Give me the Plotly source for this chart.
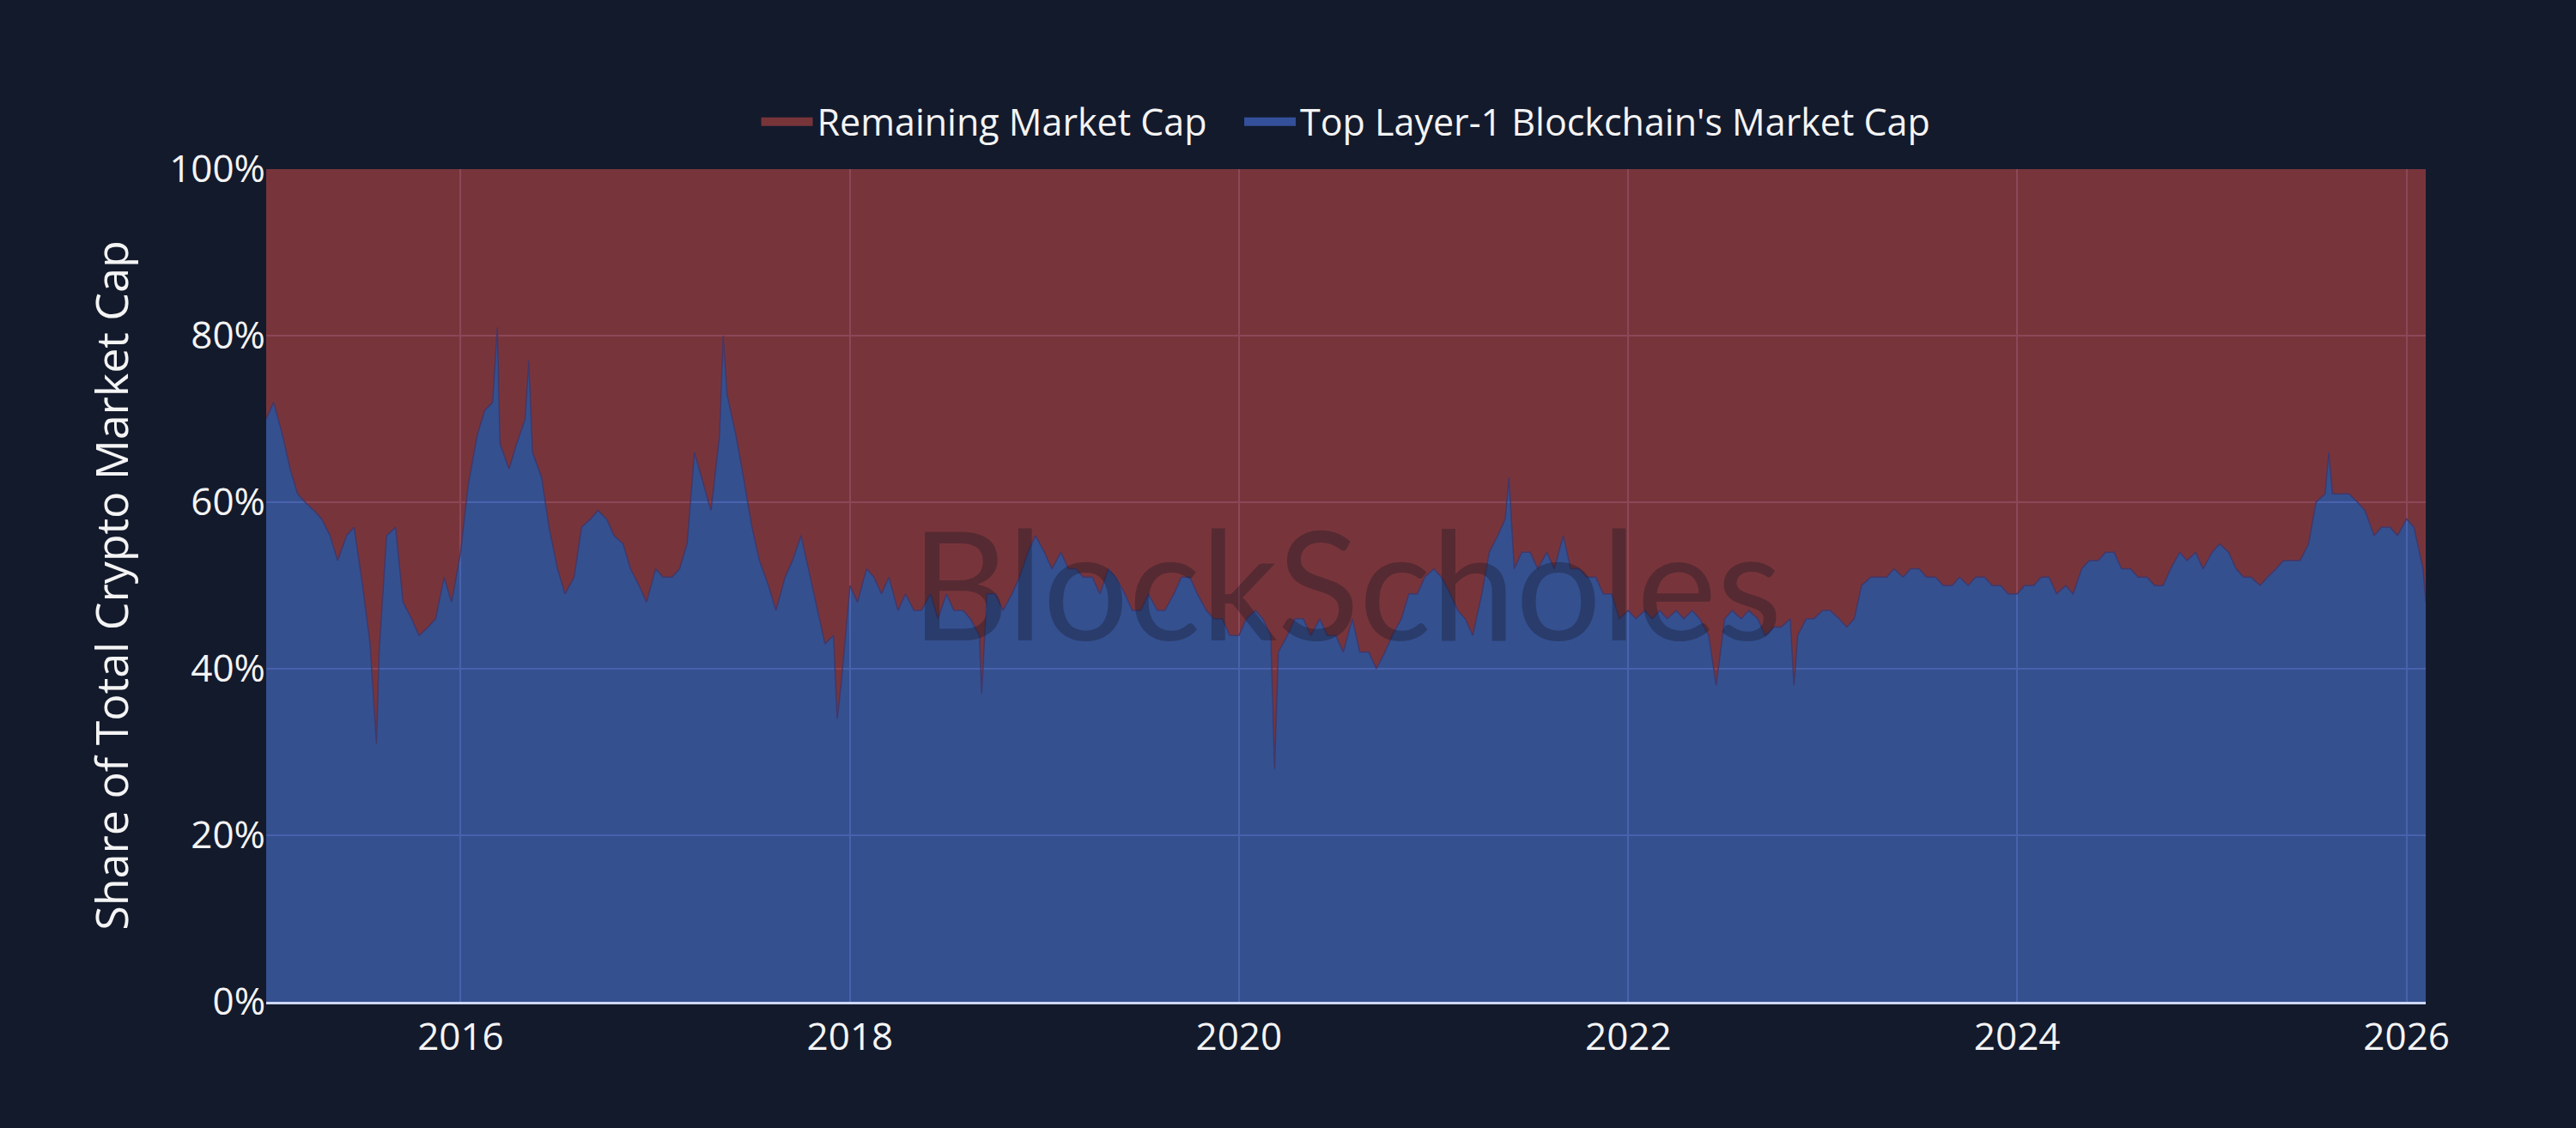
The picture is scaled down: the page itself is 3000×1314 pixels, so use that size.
import plotly.graph_objects as go

# Share (%) of total crypto market cap held by the top Layer-1 blockchain
# sampled on the 1st and 15th of every month (read from the reference chart)
share_2015 = [70, 72, 68, 64, 61, 60, 59, 58, 56, 53, 56, 57, 50, 43, 42, 56, 57, 48, 46, 44, 45, 46, 51, 48]
share_2016 = [54, 62, 68, 71, 72, 67, 64, 67, 70, 66, 63, 57, 52, 49, 51, 57, 58, 59, 58, 56, 55, 52, 50, 48]
share_2017 = [52, 51, 51, 52, 55, 66, 62, 59, 68, 73, 68, 63, 57, 53, 50, 47, 51, 53, 56, 52, 47, 43, 44, 38]
share_2018 = [50, 48, 52, 51, 49, 51, 47, 49, 47, 47, 49, 46, 49, 47, 47, 46, 44, 49, 49, 47, 49, 51, 54, 56]
share_2019 = [54, 52, 54, 52, 52, 51, 51, 49, 52, 51, 49, 47, 47, 49, 47, 47, 49, 51, 51, 49, 47, 46, 46, 44]
share_2020 = [44, 46, 47, 46, 44, 42, 44, 46, 46, 44, 46, 44, 44, 42, 46, 42, 42, 40, 42, 44, 46, 49, 49, 51]
share_2021 = [52, 51, 49, 47, 46, 44, 49, 54, 56, 58, 52, 54, 54, 52, 54, 52, 56, 52, 52, 51, 51, 49, 49, 46]
share_2022 = [47, 46, 47, 46, 47, 46, 47, 46, 47, 46, 44, 38, 46, 47, 46, 47, 46, 44, 45, 45, 46, 44, 46, 46]
share_2023 = [47, 47, 46, 45, 46, 50, 51, 51, 51, 52, 51, 52, 52, 51, 51, 50, 50, 51, 50, 51, 51, 50, 50, 49]
share_2024 = [49, 50, 50, 51, 51, 49, 50, 49, 52, 53, 53, 54, 54, 52, 52, 51, 51, 50, 50, 52, 54, 53, 54, 52]
share_2025 = [54, 55, 54, 52, 51, 51, 50, 51, 52, 53, 53, 53, 55, 60, 61, 61, 61, 61, 60, 59, 56, 57, 57, 56]
share_2026 = [58, 57, 52]
last_date = "2026-02-06"
last_share = 48

# short-lived spikes visible in the reference
spike_dates = ["2015-07-27", "2016-03-10", "2016-05-08", "2017-05-08", "2017-12-08",
               "2018-09-05", "2020-03-08", "2021-05-22", "2022-11-08", "2025-08-08"]
spike_values = [31, 81, 77, 80, 34, 37, 28, 63, 38, 66]

yearly = {
    2015: share_2015, 2016: share_2016, 2017: share_2017, 2018: share_2018,
    2019: share_2019, 2020: share_2020, 2021: share_2021, 2022: share_2022,
    2023: share_2023, 2024: share_2024, 2025: share_2025, 2026: share_2026,
}

points = []
for year, vals in yearly.items():
    for i, v in enumerate(vals):
        month = i // 2 + 1
        day = 1 if i % 2 == 0 else 15
        points.append((f"{year}-{month:02d}-{day:02d}", v))
points.append((last_date, last_share))
points += list(zip(spike_dates, spike_values))
points.sort(key=lambda p: p[0])
dates = [p[0] for p in points]
l1_share = [p[1] for p in points]
remaining = [100 - v for v in l1_share]

BG = "#131a2c"
GRID = "#3c3f68"
TXT = "#f4f4f4"
FONT = "Open Sans"
NB = "\u00a0"

fig = go.Figure()
fig.add_trace(go.Scatter(
    x=dates, y=l1_share, name="Top Layer-1 Blockchain's Market Cap",
    mode="lines", stackgroup="one", showlegend=False,
    line=dict(width=1.5, color="rgba(66,54,104,0.9)"),
    fillcolor="rgba(85,134,242,0.5)",
))
fig.add_trace(go.Scatter(
    x=dates, y=remaining, name="Remaining Market Cap",
    mode="lines", stackgroup="one", showlegend=False,
    line=dict(width=0, color="rgba(219,80,74,0.5)"),
    fillcolor="rgba(219,80,74,0.5)",
))
# legend entries
fig.add_trace(go.Scatter(x=[None], y=[None], mode="lines", name="Remaining Market Cap" + NB * 3,
                         line=dict(width=14, color="#773539")))
fig.add_trace(go.Scatter(x=[None], y=[None], mode="lines", name="Top Layer-1 Blockchain's Market Cap",
                         line=dict(width=14, color="#34509a")))

fig.update_layout(
    width=3000, height=1314,
    paper_bgcolor=BG, plot_bgcolor=BG,
    margin=dict(l=310, r=175, t=197, b=147),
    font=dict(family=FONT, size=43, color=TXT),
    showlegend=True,
    legend=dict(orientation="h", x=0.5, xanchor="center", y=1.057, yanchor="middle",
                traceorder="normal", font=dict(size=43, color=TXT), itemwidth=60,
                bgcolor="rgba(0,0,0,0)"),
    annotations=[dict(
        text="BlockScholes", x=0.5, y=0.505, xref="paper", yref="paper",
        showarrow=False, font=dict(family="Lato", size=176, color="rgba(20,20,32,0.32)"),
    )],
)
fig.update_xaxes(
    type="date", range=["2015-01-01", last_date],
    tick0="2016-01-01", dtick="M24", tickformat="%Y",
    showgrid=True, gridcolor=GRID, gridwidth=2,
    showline=True, linecolor="#cdd8f7", linewidth=3,
    zeroline=False, ticks="", tickfont=dict(size=44, color=TXT),
)
y_ticks = [0, 20, 40, 60, 80, 100]
fig.update_yaxes(
    range=[0, 100], tickmode="array", tickvals=y_ticks,
    ticktext=[f"{v}%" for v in y_ticks],
    showgrid=True, gridcolor=GRID, gridwidth=2, zeroline=False,
    tickfont=dict(size=44, color=TXT),
    title=dict(text="Share of Total Crypto Market Cap", font=dict(size=52, color=TXT), standoff=30),
)

fig.write_html("out.html", config={"displayModeBar": False},
               post_script="document.body.style.margin='0';document.body.style.overflow='hidden';")
